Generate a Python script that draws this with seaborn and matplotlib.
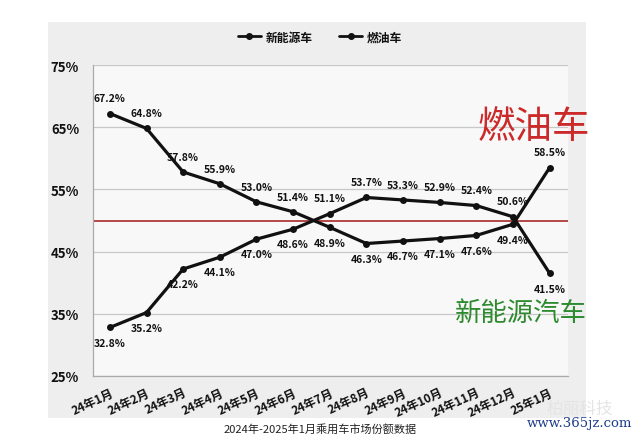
import matplotlib
matplotlib.use("Agg")
import matplotlib.pyplot as plt
import seaborn as sns
import pandas as pd
from matplotlib.patches import Rectangle
from matplotlib.lines import Line2D

months = ["24年1月", "24年2月", "24年3月", "24年4月", "24年5月", "24年6月", "24年7月",
          "24年8月", "24年9月", "24年10月", "24年11月", "24年12月", "25年1月"]
nev = [32.8, 35.2, 42.2, 44.1, 47.0, 48.6, 51.1, 53.7, 53.3, 52.9, 52.4, 50.6, 41.5]
fuel = [67.2, 64.8, 57.8, 55.9, 53.0, 51.4, 48.9, 46.3, 46.7, 47.1, 47.6, 49.4, 58.5]
series_names = ["新能源车", "燃油车"]
yticks = [25, 35, 45, 55, 65, 75]

sns.set_theme(style="white")
plt.rcParams['font.family'] = ['Noto Sans CJK SC', 'DejaVu Sans']

df = pd.DataFrame({
    "x": list(range(len(months))) * 2,
    "value": nev + fuel,
    "series": [series_names[0]] * len(nev) + [series_names[1]] * len(fuel),
})

fig = plt.figure(figsize=(6.4, 4.39), dpi=100)
fig.patch.set_facecolor("white")
# light grey panel behind the chart
fig.patches.append(Rectangle((48 / 640, 1 - 419 / 439), (586 - 48) / 640, (419 - 23) / 439,
                             transform=fig.transFigure, facecolor="#eeeeee", edgecolor="none",
                             zorder=-2))
ax = fig.add_axes([93 / 640, 1 - 377 / 439, (568 - 93) / 640, (377 - 66) / 439])
ax.set_facecolor("#f8f8f8")

sns.lineplot(data=df, x="x", y="value", hue="series", palette=["#111111", "#111111"],
             marker="o", markersize=5, linewidth=2.3, markeredgewidth=0,
             ax=ax, legend=False, zorder=3)

ax.axhline(50, color="#a01818", linewidth=1.1, zorder=2)

for i in range(len(months)):
    for v, other in ((nev[i], fuel[i]), (fuel[i], nev[i])):
        dy = 11 if v > other else -11
        ax.annotate(f"{v:.1f}%", (i, v), xytext=(0, dy), textcoords="offset points",
                    ha="center", va="center", fontsize=7.5, fontweight="bold",
                    color="#111111", zorder=4)

ax.set_xlim(-0.46, 12.5)
ax.set_ylim(25, 75)
ax.set_yticks(yticks)
ax.set_yticklabels([f"{t}%" for t in yticks], fontsize=9.5, fontweight="bold", color="#111111")
ax.yaxis.grid(True, color="#c8c8c8", linewidth=0.9)
ax.set_xticks(range(len(months)))
ax.set_xticklabels(months, rotation=25, ha="right", rotation_mode="anchor",
                   fontsize=8.5, fontweight="bold", color="#111111")
ax.tick_params(axis="x", length=3, color="#999999", pad=4)
ax.tick_params(axis="y", length=0, pad=10)
ax.set_xlabel("")
ax.set_ylabel("")
for s in ["top", "right"]:
    ax.spines[s].set_visible(False)
for s in ["left", "bottom"]:
    ax.spines[s].set_color("#aaaaaa")
    ax.spines[s].set_linewidth(0.9)

# legend
handles = [Line2D([0], [0], color="#111111", linewidth=2, marker="o", markersize=4)
           for _ in series_names]
leg = fig.legend(handles, series_names, loc="center", bbox_to_anchor=(0.5, 1 - 38 / 439),
                 ncol=2, frameon=False, fontsize=8.5, handlelength=2.0, columnspacing=2.2,
                 handletextpad=0.4)
for t in leg.get_texts():
    t.set_fontweight("bold")
    t.set_color("#111111")

fig.text(534 / 640, 1 - 128 / 439, "燃油车", fontsize=27, color="#cc2a2a",
         ha="center", va="center", fontweight="light")
fig.text(521 / 640, 1 - 314 / 439, "新能源汽车", fontsize=19, color="#2e8a2e",
         ha="center", va="center", fontweight="light")
fig.text(320 / 640, 1 - 429 / 439, "2024年-2025年1月乘用车市场份额数据", fontsize=8,
         color="#222222", ha="center", va="center")
fig.text(580 / 640, 1 - 409 / 439, "柏丽科技", fontsize=12, color="#e4e4e4",
         ha="center", va="center")
fig.text(579 / 640, 1 - 424 / 439, "www.365jz.com", fontsize=9.5, color="#1d3c8c",
         ha="center", va="center", family=["DejaVu Serif"])

fig.savefig("out.png", dpi=100)
